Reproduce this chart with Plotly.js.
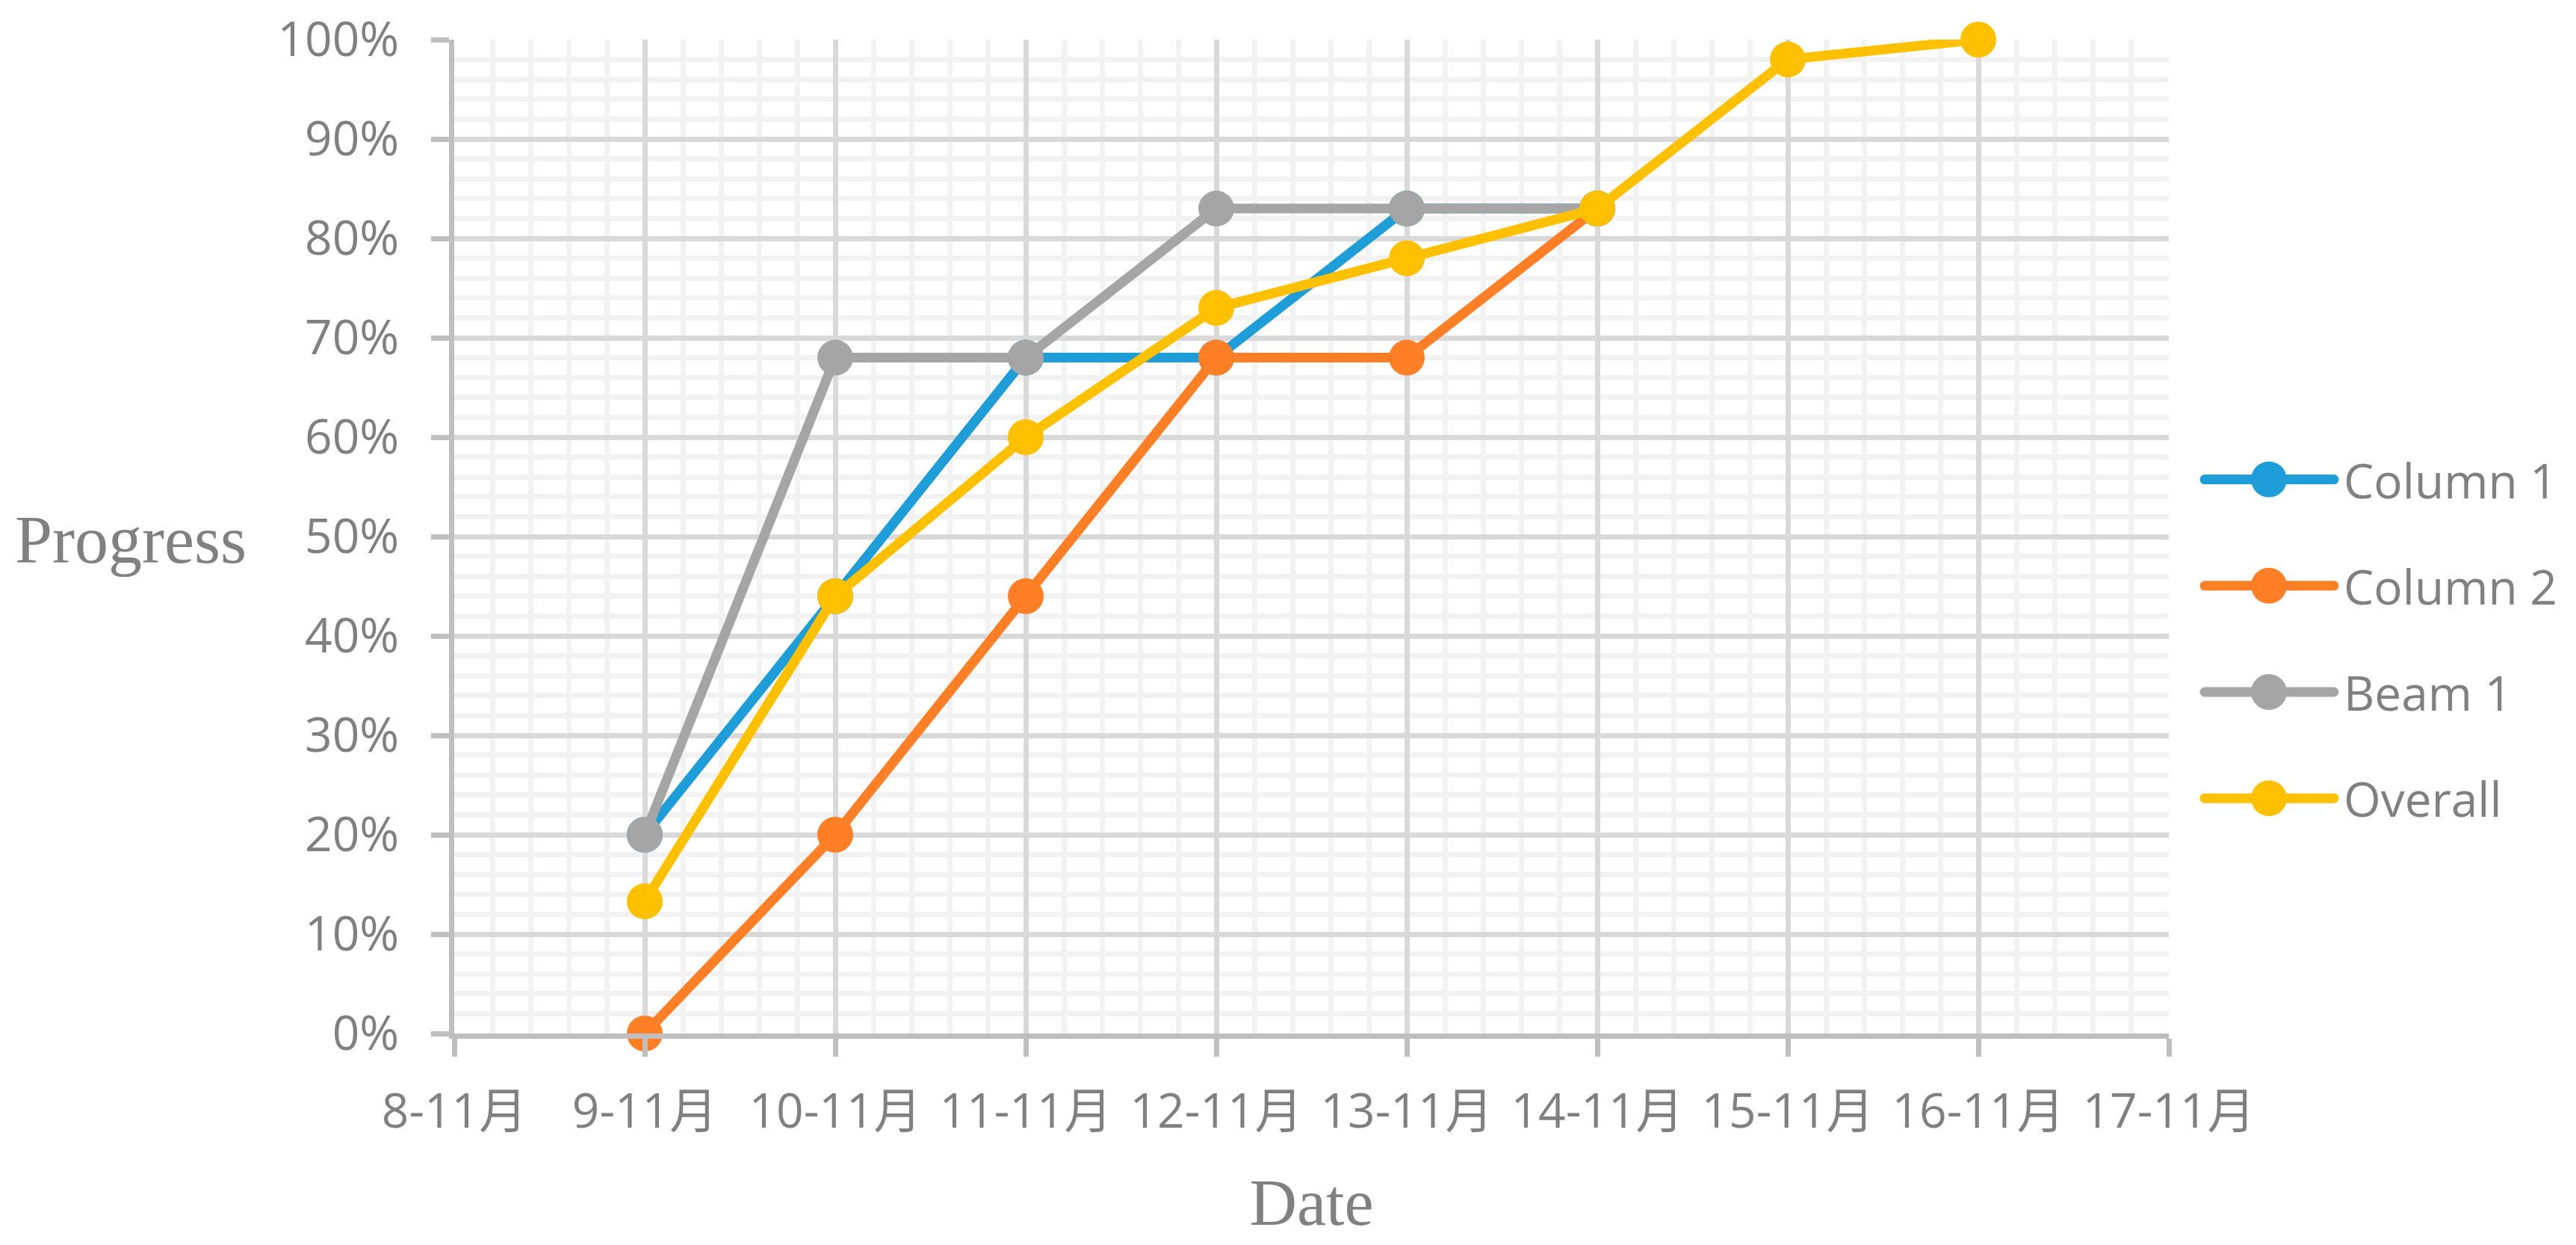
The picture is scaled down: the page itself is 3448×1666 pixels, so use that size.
<!DOCTYPE html>
<html>
<head>
<meta charset="utf-8">
<script src="https://cdn.plot.ly/plotly-3.0.1.min.js"></script>
<style>
html, body { margin: 0; padding: 0; background: #ffffff; }
#chart { width: 3448px; height: 1666px; }
</style>
</head>
<body>
<div id="chart"></div>
<script>
// ---- Data ----
const dates = [9, 10, 11, 12, 13, 14, 15, 16];
const tickValues = [8, 9, 10, 11, 12, 13, 14, 15, 16, 17];
const tickLabels = ['8-11月', '9-11月', '10-11月', '11-11月', '12-11月', '13-11月', '14-11月', '15-11月', '16-11月', '17-11月'];
const seriesNames = ['Column 1', 'Column 2', 'Beam 1', 'Overall'];
const column1 = [0.20, 0.44, 0.68, 0.68, 0.83, 0.83];
const column2 = [0.00, 0.20, 0.44, 0.68, 0.68, 0.83];
const beam1 = [0.20, 0.68, 0.68, 0.83, 0.83, 0.83];
const overall = [0.133, 0.44, 0.60, 0.73, 0.78, 0.83, 0.98, 1.00];
const seriesColors = ['#1E9DD9', '#FF7F27', '#A5A5A5', '#FFC000'];

const allSeries = [column1, column2, beam1, overall];

const traces = allSeries.map((vals, i) => ({
  type: 'scatter',
  mode: 'lines+markers',
  name: seriesNames[i],
  legendgroup: 'g' + i,
  x: dates.slice(0, vals.length),
  y: vals,
  line: { color: seriesColors[i], width: 13 },
  marker: { color: seriesColors[i], size: 48, line: { width: 0 } },
  cliponaxis: false,
  hoverinfo: 'x+y+name'
}));

const sansFont = 'Open Sans, Noto Sans CJK SC, sans-serif';
const serifFont = 'Liberation Serif, Times New Roman, serif';

const layout = {
  width: 3448,
  height: 1666,
  margin: { l: 608, r: 545, t: 53, b: 283, autoexpand: false },
  paper_bgcolor: '#ffffff',
  plot_bgcolor: '#ffffff',
  font: { family: sansFont, color: '#808080', size: 64 },
  showlegend: true,
  xaxis: {
    range: [8, 17],
    tickmode: 'array',
    tickvals: tickValues,
    ticktext: tickLabels,
    showgrid: true,
    gridcolor: '#d9d9d9',
    gridwidth: 7,
    minor: { tick0: 8, dtick: 0.2, showgrid: true, gridcolor: '#f2f2f2', gridwidth: 7, ticks: '' },
    showline: true,
    linecolor: '#bfbfbf',
    linewidth: 7,
    ticks: 'outside',
    ticklen: 24,
    tickwidth: 7,
    tickcolor: '#bfbfbf',
    zeroline: false,
    tickfont: { family: sansFont, size: 64, color: '#808080' },
    ticklabelstandoff: 18,
    title: { text: 'Date', font: { family: serifFont, size: 88, color: '#808080' }, standoff: 53 },
    fixedrange: true
  },
  yaxis: {
    range: [0, 1],
    tick0: 0,
    dtick: 0.1,
    tickformat: '.0%',
    showgrid: true,
    gridcolor: '#d9d9d9',
    gridwidth: 7,
    minor: { tick0: 0, dtick: 0.02, showgrid: true, gridcolor: '#f2f2f2', gridwidth: 7, ticks: '' },
    showline: true,
    linecolor: '#bfbfbf',
    linewidth: 7,
    ticks: 'outside',
    ticklen: 24,
    tickwidth: 7,
    tickcolor: '#bfbfbf',
    zeroline: false,
    tickfont: { family: sansFont, size: 64, color: '#808080' },
    ticklabelstandoff: 30,
    fixedrange: true
  },
  legend: {
    xref: 'paper', yref: 'paper',
    x: 1.0148, xanchor: 'left',
    y: 0.397, yanchor: 'middle',
    font: { family: sansFont, size: 64, color: '#808080' },
    itemwidth: 190,
    tracegroupgap: 56,
    bgcolor: 'rgba(0,0,0,0)',
    borderwidth: 0
  },
  annotations: [{
    text: 'Progress',
    xref: 'paper', yref: 'paper',
    x: -0.1887, y: 0.4965,
    xanchor: 'center', yanchor: 'middle',
    showarrow: false,
    font: { family: serifFont, size: 90, color: '#808080' }
  }]
};

Plotly.newPlot('chart', traces, layout, { displayModeBar: false, staticPlot: true }).then(gd => {
  // Enlarge legend symbols to resemble the long line + big dot style
  const items = gd.querySelectorAll('.legend .traces');
  items.forEach((item, i) => {
    const linePath = item.querySelector('.legendlines path');
    let center = 20;
    if (linePath) {
      const d = linePath.getAttribute('d') || '';
      const nums = d.match(/-?\d+(\.\d+)?/g);
      if (nums && nums.length >= 3) {
        center = parseFloat(nums[0]) + parseFloat(nums[2]) / 2;
      }
      linePath.setAttribute('d', 'M' + (center - 86) + ',0h173');
      linePath.style.strokeWidth = '13px';
      linePath.style.strokeLinecap = 'round';
    }
    const pt = item.querySelector('.legendpoints path.scatterpts');
    if (pt) {
      pt.setAttribute('d', 'M24,0A24,24 0 1,1 0,-24A24,24 0 0,1 24,0Z');
    }
  });
});
</script>
</body>
</html>
